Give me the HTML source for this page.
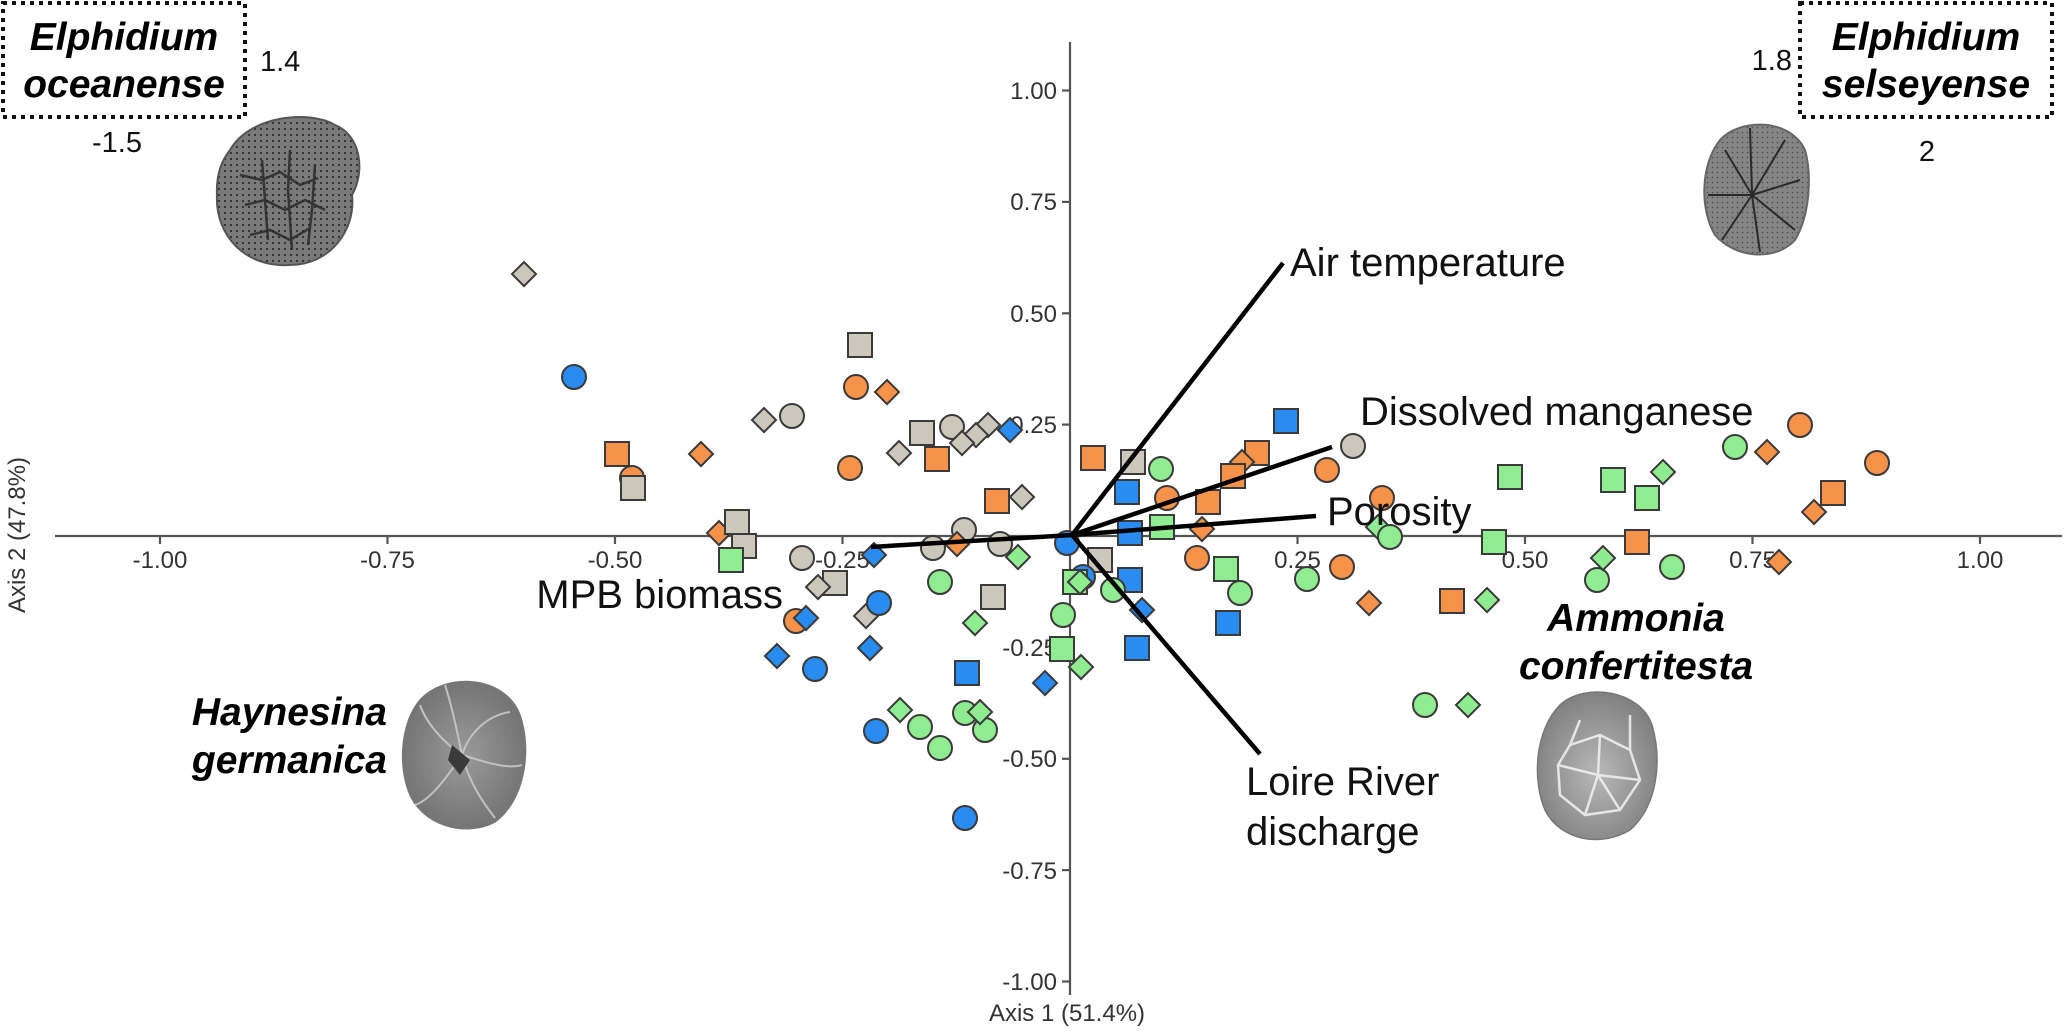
<!DOCTYPE html>
<html><head><meta charset="utf-8"><style>
html,body{margin:0;padding:0;background:#fff;}
svg{display:block;}
text{font-family:"Liberation Sans",Arial,sans-serif;}
</style></head><body>
<svg width="2067" height="1033" viewBox="0 0 2067 1033" xmlns="http://www.w3.org/2000/svg">
<defs>
<pattern id="dots" width="6" height="6" patternUnits="userSpaceOnUse"><rect width="6" height="6" fill="#7a7a7a"/><circle cx="3" cy="3" r="1.1" fill="#2e2e2e"/></pattern>
<pattern id="dots2" width="5" height="5" patternUnits="userSpaceOnUse"><rect width="5" height="5" fill="#858585"/><circle cx="2.5" cy="2.5" r="0.8" fill="#4a4a4a"/></pattern>
<radialGradient id="gH" cx="50%" cy="50%" r="60%"><stop offset="0" stop-color="#9a9a9a"/><stop offset="1" stop-color="#6e6e6e"/></radialGradient>
<radialGradient id="gA" cx="50%" cy="55%" r="60%"><stop offset="0" stop-color="#b8b8b8"/><stop offset="1" stop-color="#7c7c7c"/></radialGradient>
</defs>

<!-- Dotted boxes -->
<rect x="3" y="3" width="242" height="114" fill="none" stroke="#111" stroke-width="4" stroke-dasharray="4 5"/>
<rect x="1800" y="3" width="252" height="114" fill="none" stroke="#111" stroke-width="4" stroke-dasharray="4 5"/>
<g font-weight="bold" font-style="italic" font-size="39" fill="#000" text-anchor="middle">
<text x="124" y="50">Elphidium</text>
<text x="124" y="97">oceanense</text>
<text x="1926" y="50">Elphidium</text>
<text x="1926" y="97">selseyense</text>
</g>
<g font-size="29" fill="#111">
<text x="260" y="71">1.4</text>
<text x="92" y="152">-1.5</text>
<text x="1792" y="70" text-anchor="end">1.8</text>
<text x="1927" y="161" text-anchor="middle">2</text>
</g>

<!-- Foraminifera images -->
<g>
<path d="M230,150 C250,115 310,110 335,125 C360,135 366,170 352,195 C356,230 330,265 290,265 C245,268 215,235 217,195 C216,175 222,160 230,150 Z" fill="url(#dots)" stroke="#555" stroke-width="2"/>
<g stroke="#2a2a2a" stroke-width="2.5" fill="none" opacity="0.85">
<path d="M240,175 L262,180 L280,172 L300,185 L318,178"/>
<path d="M245,205 L265,200 L285,210 L305,200 L325,210"/>
<path d="M250,235 L270,230 L290,240 L310,228"/>
<path d="M262,160 L265,200 L268,240"/>
<path d="M290,150 L288,190 L292,250"/>
<path d="M315,165 L312,210 L308,245"/>
</g>
</g>
<g>
<path d="M1720,140 C1740,118 1790,118 1805,150 C1812,175 1810,215 1795,240 C1775,262 1735,258 1715,235 C1700,210 1700,165 1720,140 Z" fill="url(#dots2)" stroke="#666" stroke-width="2"/>
<g stroke="#2a2a2a" stroke-width="2" fill="none">
<path d="M1752,195 L1725,150"/><path d="M1752,195 L1750,128"/><path d="M1752,195 L1785,140"/><path d="M1752,195 L1800,180"/><path d="M1752,195 L1795,230"/><path d="M1752,195 L1760,252"/><path d="M1752,195 L1722,240"/><path d="M1752,195 L1708,195"/>
</g>
</g>
<g>
<path d="M420,700 C445,672 505,675 520,715 C532,750 525,800 495,822 C465,838 420,825 408,790 C398,760 402,722 420,700 Z" fill="url(#gH)" stroke="#777" stroke-width="1.5"/>
<g stroke="#c8c8c8" stroke-width="2" fill="none" opacity="0.9">
<path d="M462,755 C470,730 490,715 510,712"/><path d="M462,755 C480,760 505,770 522,765"/><path d="M462,755 C470,785 485,805 495,818"/><path d="M462,755 C445,780 430,800 415,805"/><path d="M462,755 C440,740 425,720 420,705"/><path d="M462,755 C455,720 450,700 445,685"/>
</g>
<path d="M452,745 L470,760 L460,775 L448,760 Z" fill="#3a3a3a"/>
</g>
<g>
<path d="M1560,705 C1585,682 1640,690 1652,725 C1662,760 1658,805 1630,830 C1600,848 1560,840 1545,810 C1532,780 1535,730 1560,705 Z" fill="url(#gA)" stroke="#777" stroke-width="1.5"/>
<g stroke="#eeeeee" stroke-width="2.5" fill="none" opacity="0.9">
<path d="M1570,745 L1600,735 L1630,750 L1640,780 L1620,810 L1585,815 L1560,795 L1558,765 Z"/>
<path d="M1600,735 L1598,775 L1620,810"/><path d="M1558,765 L1598,775 L1640,780"/><path d="M1585,815 L1598,775"/>
<path d="M1580,720 L1570,745"/><path d="M1630,715 L1630,750"/>
</g>
</g>

<!-- Axes -->
<g stroke="#555" stroke-width="2.2">
<line x1="55" y1="536" x2="2062" y2="536"/>
<line x1="1070" y1="42" x2="1070" y2="995"/>
<line x1="160" y1="536" x2="160" y2="544"/>
<line x1="387.5" y1="536" x2="387.5" y2="544"/>
<line x1="615" y1="536" x2="615" y2="544"/>
<line x1="842.5" y1="536" x2="842.5" y2="544"/>
<line x1="1297.5" y1="536" x2="1297.5" y2="544"/>
<line x1="1525" y1="536" x2="1525" y2="544"/>
<line x1="1752.5" y1="536" x2="1752.5" y2="544"/>
<line x1="1980" y1="536" x2="1980" y2="544"/>
<line x1="1062" y1="90.5" x2="1070" y2="90.5"/>
<line x1="1062" y1="201.9" x2="1070" y2="201.9"/>
<line x1="1062" y1="313.3" x2="1070" y2="313.3"/>
<line x1="1062" y1="424.6" x2="1070" y2="424.6"/>
<line x1="1062" y1="647.4" x2="1070" y2="647.4"/>
<line x1="1062" y1="758.8" x2="1070" y2="758.8"/>
<line x1="1062" y1="870.1" x2="1070" y2="870.1"/>
<line x1="1062" y1="981.5" x2="1070" y2="981.5"/>
</g>
<g font-size="24" fill="#333" text-anchor="middle">
<text x="160" y="568">-1.00</text>
<text x="387.5" y="568">-0.75</text>
<text x="615" y="568">-0.50</text>
<text x="842.5" y="568">-0.25</text>
<text x="1297.5" y="568">0.25</text>
<text x="1525" y="568">0.50</text>
<text x="1752.5" y="568">0.75</text>
<text x="1980" y="568">1.00</text>
</g>
<g font-size="24" fill="#333" text-anchor="end">
<text x="1057" y="99">1.00</text>
<text x="1057" y="210">0.75</text>
<text x="1057" y="322">0.50</text>
<text x="1057" y="433">0.25</text>
<text x="1057" y="656">-0.25</text>
<text x="1057" y="767">-0.50</text>
<text x="1057" y="879">-0.75</text>
<text x="1057" y="990">-1.00</text>
</g>
<text x="1067" y="1021" font-size="24" fill="#333" text-anchor="middle">Axis 1 (51.4%)</text>
<text transform="translate(25,535) rotate(-90)" font-size="24" fill="#333" text-anchor="middle">Axis 2 (47.8%)</text>

<!-- Points -->
<g stroke="#3a3a3a" stroke-width="2">
<g fill="#cbc8bb">
<rect x="512" y="267" width="17" height="17" transform="rotate(45 524 279)" />
<rect x="848" y="333" width="24" height="24"/>
<circle cx="792" cy="416" r="12"/>
<rect x="752" y="413" width="17" height="17" transform="rotate(45 764 425)"/>
<rect x="910" y="421" width="24" height="24"/>
<circle cx="952" cy="427" r="12"/>
<rect x="976" y="418" width="17" height="17" transform="rotate(45 988 430)"/>
<rect x="964" y="428" width="17" height="17" transform="rotate(45 976 440)"/>
<rect x="950" y="436" width="17" height="17" transform="rotate(45 962 448)"/>
<rect x="887" y="446" width="17" height="17" transform="rotate(45 899 458)"/>
<rect x="1010" y="490" width="17" height="17" transform="rotate(45 1022 502)"/>
</g>
<g fill="#f7924a">
<rect x="605" y="442" width="24" height="24"/>
<circle cx="632" cy="478" r="12"/>
<rect x="689" y="447" width="17" height="17" transform="rotate(45 701 459)"/>
<circle cx="856" cy="387" r="12"/>
<rect x="875" y="385" width="17" height="17" transform="rotate(45 887 397)"/>
<circle cx="850" cy="468" r="12"/>
<rect x="925" y="447" width="24" height="24"/>
<rect x="985" y="489" width="24" height="24"/>
<rect x="707" y="526" width="17" height="17" transform="rotate(45 719 538)"/>
</g>
<g fill="#cbc8bb">
<rect x="621" y="476" width="24" height="24"/>
<rect x="725" y="510" width="24" height="24"/>
<rect x="732" y="534" width="24" height="24"/>
<circle cx="964" cy="530" r="12"/>
<circle cx="933" cy="548" r="12"/>
<circle cx="1000" cy="544" r="12"/>
<circle cx="802" cy="558" r="12"/>
<rect x="823" y="571" width="24" height="24"/>
<rect x="806" y="580" width="17" height="17" transform="rotate(45 818 592)"/>
<rect x="854" y="609" width="17" height="17" transform="rotate(45 866 621)"/>
<rect x="981" y="585" width="24" height="24"/>
<rect x="1088" y="548" width="24" height="24"/>
<rect x="1121" y="450" width="24" height="24"/>
<circle cx="1353" cy="446" r="12"/>
</g>
<g fill="#f7924a">
<rect x="945" y="537" width="17" height="17" transform="rotate(45 957 549)"/>
<circle cx="796" cy="621" r="12"/>
<rect x="1081" y="446" width="24" height="24"/>
<circle cx="1167" cy="498" r="12"/>
<rect x="1245" y="441" width="24" height="24"/>
<rect x="1230" y="455" width="17" height="17" transform="rotate(45 1242 467)"/>
<rect x="1221" y="464" width="24" height="24"/>
<rect x="1196" y="490" width="24" height="24"/>
<circle cx="1327" cy="470" r="12"/>
<circle cx="1382" cy="498" r="12"/>
<rect x="1190" y="522" width="17" height="17" transform="rotate(45 1202 534)"/>
<circle cx="1197" cy="558" r="12"/>
<circle cx="1342" cy="567" r="12"/>
<rect x="1357" y="596" width="17" height="17" transform="rotate(45 1369 608)"/>
<rect x="1440" y="589" width="24" height="24"/>
<rect x="1625" y="530" width="24" height="24"/>
<rect x="1767" y="555" width="17" height="17" transform="rotate(45 1779 567)"/>
<circle cx="1800" cy="425" r="12"/>
<rect x="1755" y="445" width="17" height="17" transform="rotate(45 1767 457)"/>
<circle cx="1877" cy="463" r="12"/>
<rect x="1821" y="481" width="24" height="24"/>
<rect x="1802" y="505" width="17" height="17" transform="rotate(45 1814 517)"/>
</g>
<g fill="#2a8cf0">
<circle cx="574" cy="377" r="12"/>
<rect x="998" y="423" width="17" height="17" transform="rotate(45 1010 435)"/>
<rect x="862" y="548" width="17" height="17" transform="rotate(45 874 560)"/>
<circle cx="879" cy="603" r="12"/>
<rect x="794" y="611" width="17" height="17" transform="rotate(45 806 623)"/>
<circle cx="1067" cy="543" r="12"/>
<circle cx="1083" cy="577" r="12"/>
<rect x="1118" y="568" width="24" height="24"/>
<rect x="1125" y="636" width="24" height="24"/>
<rect x="1130" y="603" width="17" height="17" transform="rotate(45 1142 615)"/>
<rect x="1216" y="611" width="24" height="24"/>
<rect x="1274" y="409" width="24" height="24"/>
<rect x="1115" y="480" width="24" height="24"/>
<rect x="1118" y="521" width="24" height="24"/>
<rect x="765" y="649" width="17" height="17" transform="rotate(45 777 661)"/>
<circle cx="815" cy="669" r="12"/>
<rect x="858" y="641" width="17" height="17" transform="rotate(45 870 653)"/>
<rect x="955" y="661" width="24" height="24"/>
<circle cx="876" cy="731" r="12"/>
<circle cx="965" cy="818" r="12"/>
<rect x="1033" y="676" width="17" height="17" transform="rotate(45 1045 688)"/>
</g>
<g fill="#90ec90">
<rect x="719" y="548" width="24" height="24"/>
<rect x="1006" y="550" width="17" height="17" transform="rotate(45 1018 562)"/>
<circle cx="940" cy="582" r="12"/>
<rect x="963" y="616" width="17" height="17" transform="rotate(45 975 628)"/>
<rect x="1063" y="570" width="24" height="24"/>
<rect x="1068" y="575" width="17" height="17" transform="rotate(45 1080 587)"/>
<circle cx="1113" cy="590" r="12"/>
<circle cx="1063" cy="615" r="12"/>
<rect x="1050" y="637" width="24" height="24"/>
<rect x="1069" y="660" width="17" height="17" transform="rotate(45 1081 672)"/>
<rect x="888" y="703" width="17" height="17" transform="rotate(45 900 715)"/>
<circle cx="920" cy="727" r="12"/>
<circle cx="940" cy="748" r="12"/>
<circle cx="965" cy="713" r="12"/>
<circle cx="985" cy="730" r="12"/>
<rect x="968" y="705" width="17" height="17" transform="rotate(45 980 717)"/>
<circle cx="1161" cy="469" r="12"/>
<rect x="1150" y="515" width="24" height="24"/>
<rect x="1366" y="520" width="17" height="17" transform="rotate(45 1378 532)"/>
<circle cx="1390" cy="537" r="12"/>
<rect x="1214" y="557" width="24" height="24"/>
<circle cx="1240" cy="593" r="12"/>
<circle cx="1307" cy="579" r="12"/>
<rect x="1475" y="593" width="17" height="17" transform="rotate(45 1487 605)"/>
<rect x="1482" y="530" width="24" height="24"/>
<rect x="1498" y="465" width="24" height="24"/>
<rect x="1601" y="468" width="24" height="24"/>
<rect x="1651" y="465" width="17" height="17" transform="rotate(45 1663 477)"/>
<rect x="1635" y="486" width="24" height="24"/>
<circle cx="1597" cy="580" r="12"/>
<rect x="1591" y="551" width="17" height="17" transform="rotate(45 1603 563)"/>
<circle cx="1672" cy="567" r="12"/>
<circle cx="1735" cy="447" r="12"/>
<circle cx="1425" cy="705" r="12"/>
<rect x="1456" y="698" width="17" height="17" transform="rotate(45 1468 710)"/>
</g>
</g>

<!-- Vectors -->
<g stroke="#000" stroke-width="4.5" stroke-linecap="butt">
<line x1="1072" y1="535" x2="1283" y2="263"/>
<line x1="1072" y1="535" x2="1332" y2="447"/>
<line x1="1072" y1="535" x2="1316" y2="516"/>
<line x1="1072" y1="535" x2="871" y2="547"/>
<line x1="1072" y1="535" x2="1260" y2="754"/>
</g>
<g font-size="40" fill="#111">
<text x="1290" y="276">Air temperature</text>
<text x="1360" y="425">Dissolved manganese</text>
<text x="1327" y="525">Porosity</text>
<text x="783" y="608" text-anchor="end">MPB biomass</text>
<text x="1246" y="795">Loire River</text>
<text x="1246" y="845">discharge</text>
</g>
<g font-weight="bold" font-style="italic" font-size="39" fill="#000">
<text x="387" y="725" text-anchor="end">Haynesina</text>
<text x="387" y="773" text-anchor="end">germanica</text>
<text x="1636" y="631" text-anchor="middle">Ammonia</text>
<text x="1636" y="679" text-anchor="middle">confertitesta</text>
</g>
</svg>
</body></html>
